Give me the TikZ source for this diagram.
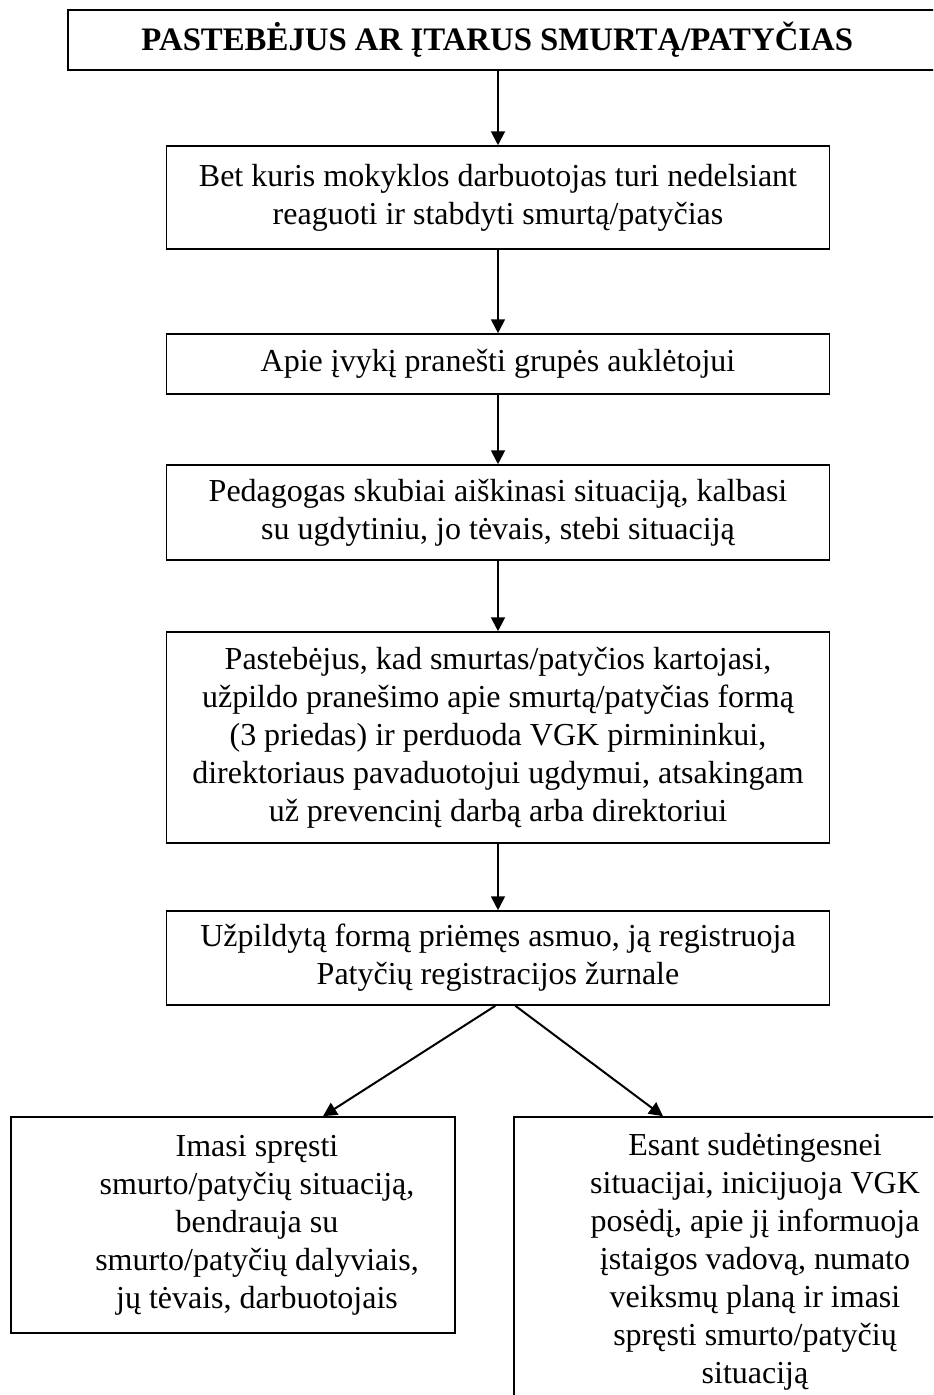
\documentclass[tikz,border=0pt]{standalone}
\usepackage{fontspec}
\setmainfont{Liberation Serif}
\usetikzlibrary{arrows.meta}

\begin{document}
\begin{tikzpicture}
[x=0.375pt,y=-0.375pt,
 every node/.style={draw,line width=0.6pt,align=center,inner sep=2pt,font=\fontsize{12}{14.25}\selectfont},
 stepbox/.style={minimum width=248.6pt},
 arr/.style={line width=0.75pt,-{Triangle[length=5.2pt,width=5.2pt]}}]
  \useasboundingbox (0,0) rectangle (933,1395);
  \clip (0,0) rectangle (933,1395);

  \node[minimum width=330pt,minimum height=22.5pt,font=\fontsize{12.3}{14.5}\selectfont] (t) at (508,40) {\textbf{PASTEBĖJUS AR ĮTARUS SMURTĄ/PATYČIAS}\hspace*{8pt}};
  \node[stepbox,minimum height=38.6pt] (b2) at (498,197.5) {Bet kuris mokyklos darbuotojas turi nedelsiant\\ reaguoti ir stabdyti smurtą/patyčias};
  \node[stepbox,minimum height=22.5pt] (b3) at (498,364) {Apie įvykį pranešti grupės auklėtojui};
  \node[stepbox,minimum height=35.6pt] (b4) at (498,512.5) {Pedagogas skubiai aiškinasi situaciją, kalbasi\\ su ugdytiniu, jo tėvais, stebi situaciją};
  \node[stepbox,minimum height=79.1pt] (b5) at (498,737.5) {Pastebėjus, kad smurtas/patyčios kartojasi,\\ užpildo pranešimo apie smurtą/patyčias formą\\ (3 priedas) ir perduoda VGK pirmininkui,\\ direktoriaus pavaduotojui ugdymui, atsakingam\\ už prevencinį darbą arba direktoriui};
  \node[stepbox,minimum height=35.25pt] (b6) at (498,958) {Užpildytą formą priėmęs asmuo, ją registruoja\\ Patyčių registracijos žurnale};

  \node[minimum width=166.5pt,minimum height=81pt] (lb) at (233,1225) {\hspace*{18pt}\begin{tabular}{@{}c@{}}Imasi spręsti\\ smurto/patyčių situaciją,\\ bendrauja su\\ smurto/patyčių dalyviais,\\ jų tėvais, darbuotojais\end{tabular}};
  \node[minimum width=180.75pt,minimum height=108.75pt] (rb) at (755,1262) {Esant sudėtingesnei\\ situacijai, inicijuoja VGK\\ posėdį, apie jį informuoja\\ įstaigos vadovą, numato\\ veiksmų planą ir imasi\\ spręsti smurto/patyčių\\ situaciją};

  \draw[arr] (t.south -| b2) -- (b2);
  \foreach \from/\to in {b2/b3,b3/b4,b4/b5,b5/b6}
    \draw[arr] (\from) -- (\to);

  \draw[arr] ([xshift=-1pt]b6.south) -- ([xshift=33.75pt]lb.north);
  \draw[arr] ([xshift=6.5pt]b6.south) -- ([xshift=-34.5pt]rb.north);

\end{tikzpicture}
\end{document}
